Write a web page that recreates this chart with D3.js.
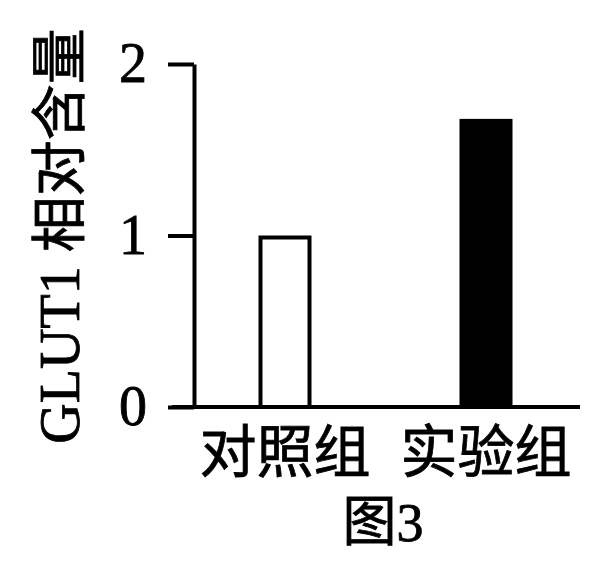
<!DOCTYPE html>
<html>
<head>
<meta charset="utf-8">
<script src="https://cdn.jsdelivr.net/npm/d3@7"></script>
<style>
  body { margin: 0; background: #fff; }
  text { font-family: "Liberation Serif", "Noto Sans CJK SC", serif; fill: #000; stroke: #000; stroke-width: 0.8px; }
</style>
</head>
<body>
<div id="chart"></div>
<script>
/* data */
const groups = ["对照组", "实验组"];
const values = [1.0, 1.68];
const fills = ["#fff", "#000"];
const yTicks = [0, 1, 2];
const yTitle = "GLUT1 相对含量";
const caption = "图3";

const width = 589, height = 561;
const lineW = 4;

const svg = d3.select("#chart").append("svg")
  .attr("width", width)
  .attr("height", height);

// scales
const y = d3.scaleLinear().domain([0, 2]).range([407, 64]);
const x = d3.scalePoint().domain(groups).range([285, 486]);
const barW = 53;
const axisX = 194;

// bars
svg.selectAll("rect.bar")
  .data(groups)
  .enter()
  .append("rect")
  .attr("class", "bar")
  .attr("x", d => x(d) - barW / 2 + lineW / 2)
  .attr("y", (d, i) => y(values[i]) + lineW / 2)
  .attr("width", barW - lineW)
  .attr("height", (d, i) => y(0) - y(values[i]) - lineW / 2)
  .attr("fill", (d, i) => fills[i])
  .attr("stroke", "#000")
  .attr("stroke-width", lineW);

// y axis
const yAxis = svg.append("g")
  .attr("transform", `translate(${axisX},0)`)
  .call(d3.axisLeft(y).tickValues(yTicks).tickFormat(d3.format("d"))
    .tickSize(26).tickSizeOuter(0).tickPadding(21));
yAxis.select(".domain").attr("stroke-width", lineW);
yAxis.selectAll(".tick line").attr("stroke-width", lineW);
yAxis.selectAll(".tick text")
  .style("font-family", "'Liberation Serif', serif")
  .style("font-size", "56px");

// x axis line
svg.append("line")
  .attr("x1", 172)
  .attr("x2", 580)
  .attr("y1", y(0))
  .attr("y2", y(0))
  .attr("stroke", "#000")
  .attr("stroke-width", lineW);

// category labels
svg.selectAll("text.cat")
  .data(groups)
  .enter()
  .append("text")
  .attr("class", "cat")
  .attr("x", d => x(d))
  .attr("y", 472)
  .attr("text-anchor", "middle")
  .style("font-size", "57px")
  .text(d => d);

// caption
svg.append("text")
  .attr("x", 383)
  .attr("y", 541)
  .attr("text-anchor", "middle")
  .style("font-size", "54px")
  .text(caption);

// y title
svg.append("text")
  .attr("transform", "translate(60,236) rotate(-90)")
  .attr("text-anchor", "middle")
  .attr("dominant-baseline", "central")
  .style("font-size", "56px")
  .text(yTitle);
</script>
</body>
</html>
